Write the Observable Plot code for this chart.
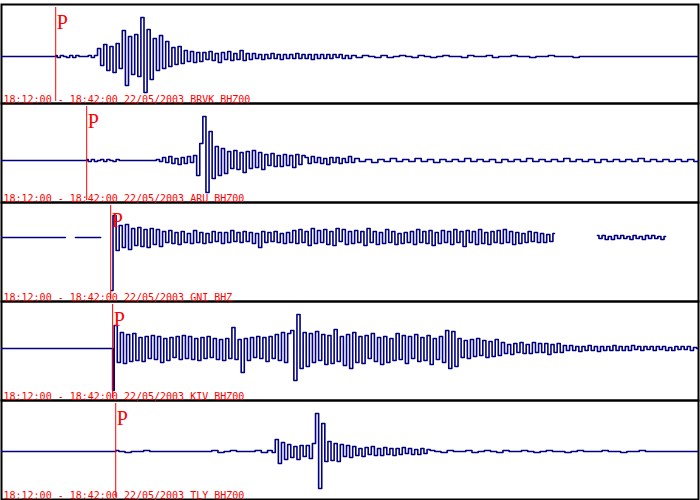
<!DOCTYPE html>
<html>
<head>
<meta charset="utf-8">
<script src="https://cdn.jsdelivr.net/npm/d3@7"></script>
<script src="https://cdn.jsdelivr.net/npm/@observablehq/plot@0.6"></script>
<style>
html,body{margin:0;padding:0;background:#fff;}
</style>
</head>
<body>
<div id="chart"></div>
<script>
// ---- record info ----
const startTime = "18:12:00";
const endTime = "18:42:00";
const recordDate = "22/05/2003";
const durationSec = 1800; // 30 minutes

const stations = ["BRVK", "ARU", "GNI", "KIV", "TLY"];
const channels = ["BHZ00", "BHZ00", "BHZ", "BHZ00", "BHZ00"];
// P arrival, seconds after 18:12:00
const pArrival = [140, 220, 282, 287, 295];
// trace baseline offset inside its panel (amplitude units)
const baselineOffset = [-2.5, -7.5, 14.5, 2.5, -1.5];

// ---- waveforms (amplitude samples) ----
const brvkWave = [1,-1,1,0,-1,1,-1,1, 0,0,0, 1,-1,1,
  8,-9,12,-14,10,-16,13,-12, 26,-29,20, -18,22,-20, 39,-36, 27,-23,18,
  -14,21,-12,15, -10,9,-8,10,-7, 6,-5,5,-6,4,-5,
  4,-3,5,-4,3,-6,4,-3,5,-4,3,-3,6,-4,3,-3,
  3,-2,2,-3,2,-2,3,-2,2,-3,2,-2,2,-2,3,-2,2,-2,2,-3,2,-2,2,-2,2,-2,
  2,-1,2,-2,1,-2];
const brvkCoda = [1,-1,1,0,-1,1,-1,0,1,0,-1,1,0,-1,0,1,0,0,-1,1,0,0,1,-1,0,0,1,0,0,-1,0,0,1,0,0,0,-1,0,0,0];

const aruWave = [1,-1,1,-1,0,1,-1,1,0,-1,1, 0,0,0,0,0,0,0,0,0,0,0,0, 1,-1,
  3,-2,4,-3,2,-4,3,-3,4,-2,5,
  -15,17,44,-32,29,-18,14,-15,12,-13,
  9,-8,10,-9,8,-12,9,-8,10,-7,8,-9,
  6,-5,7,-6,5,-6,6,-5,5,-7,6,-4,5,
  3,-3,4,-2,3,-3,2,-4,3,-2,3,-3,2,-2,4,-2];
const aruCoda = [2,-1,1,-2,1,-1,2,-1,1,-1,2,-1,1,-2,1,-1,1,-1,2,-1,1,-1,1,-2,1,-1,1,-1,2,-1,1,-1,1,-1,2,-1,1,-1,1,-2,1,-1,1,-1,1,-1,2,-1,1,-1,1,-1,1,-1,1,-1];

const gniWave = [-53,22,-13,12,-10,13,-12,
  9,-8,10,-9,8,-10,9,-7,8,-9,
  6,-5,7,-6,5,-7,6,-5,4,-6,7,-5,5,-6,4,-5,6,-4,5,-6,5,-5,7,-4,5,-5,6,-4,5,-6,4,-10,6,-5,5,-4,6,-5,4,-6,5,-5,
  7,-6,8,-5,6,-8,9,-6,7,-5,8,-7,6,-8,
  9,-4,8,-7,6,
  -6,7,-5,6,-8,9,-5,6,-7,5,-6,8,-5,6,-7,4,-6,5,-5,6,-7,8,-5,6,-6,7,-8,5,-6,7,
  -5,6,-7,8,-5,6,-9,7,-5,6,-7,8,-6,5,-7,6,-5,7,-6,8,-5,6,-7,5,-6,4,-5,6,-4,5,
  -5,4,-5,3,-4,4];
const gniLate = [2,-1,2,-2,1,-2,2,-1,2,-1,1,-2,2,-1,1,-2,2,-1,2,-1,1,-2,1];

const kivWave = [-42,23,-14,16,-15,14,-13,15,
  -12,11,-13,12,-10,13,-11,12,-14,10,-12,11,-9,12,-11,13,-10,12,-11,10,-12,
  11,-10,12,-9,10,-11,9,-12,10,-10,21,-11,9,-24,10,-12,11,-9,12,-10,11,-13,12,-10,14,-12,16,-14,15,
  18,-32,34,-20,16,
  -18,15,-14,17,-12,14,-16,13,-15,19,-13,12,-17,14,-20,
  16,-14,12,-15,13,-10,15,-13,11,-16,12,-14,10,-12,15,-11,13,-15,12,-10,14,-13,11,-12,13,-16,10,-11,12,-14,18,-20,17,
  -18,10,-9,8,-10,9,-8,10,-7,8,-9,7,-8,9,-7,
  6,-5,4,-6,5,-4,6,-5,4,-5,6,-4,5,-4,5,-6,4,-4,5,-4,
  3,-2,3,-2,2,-3,2,-2,3,-2,2,-3,2,-2,2,-2,3,-2,2,-2,2,-2,3,-1,2,-2,2,-1,2,-2,2,-1,2,-2,1,-2,2,-1,2,-1,2,-2,1];

const tlyPre = [1,0,-1,0,0,1,0,0,0,0,0,0,0,0,0,0,1,-1,0,1,0,0,0,1,-1];
const tlyWave = [1,-1, 12,-12,9,-8, 7,-6,5,-8,6,-5, 6,-7,8, 38,-37,28,-10, 10,-9,8,-10, 7,-5,6,-6,
  5,-4,3,-5,4,-3,5,-4,3,-4,4,-3,3,-4,3,-3,4,-2,3,-3,2,-3,3,-2,2];
const tlyCoda = [1,0,-1,1,0,0,1,-1,0,1,0,-1,1,0,0,1,0,-1,0,1,0,0,-1,0,1,0,0,0,1,0,0,-1,0,0,1,0];

// pieces: flat baseline (seconds), gap (seconds), or samples with spacing dt (seconds)
const tracePieces = {
  BRVK: [{flat: 140}, {dt: 8, v: brvkWave}, {dt: 16, v: brvkCoda}, {flat: "end"}],
  ARU:  [{flat: 220}, {dt: 8, v: aruWave}, {dt: 16, v: aruCoda}, {flat: "end"}],
  GNI:  [{flat: 165}, {gap: 26}, {flat: 65}, {gap: 28}, {dt: 8, v: gniWave}, {gapTo: 1539}, {dt: 8, v: gniLate}],
  KIV:  [{flat: 287}, {dt: 8, v: kivWave}, {flat: "end"}],
  TLY:  [{flat: 295}, {dt: 16, v: tlyPre}, {dt: 8, v: tlyWave}, {dt: 16, v: tlyCoda}, {flat: "end"}]
};

// ---- build tables ----
const points = [];
stations.forEach((s, k) => {
  let t = 0, g = 0;
  const off = baselineOffset[k];
  for (const p of tracePieces[s]) {
    if (p.gap != null) { t += p.gap; g++; continue; }
    if (p.gapTo != null) { t = p.gapTo; g++; continue; }
    if (p.flat != null) {
      const d = p.flat === "end" ? durationSec - t : p.flat;
      points.push({station: s, g: s + g, t, y: off}, {station: s, g: s + g, t: t + d, y: off});
      t += d; continue;
    }
    p.v.forEach((v, i) => points.push({station: s, g: s + g, t: t + i * p.dt, y: off + v}));
    t += p.v.length * p.dt;
  }
});
const picks = stations.map((s, k) => ({station: s, t: pArrival[k]}));
const labels = stations.map((s, k) => ({station: s, label: `${startTime} - ${endTime} ${recordDate} ${s} ${channels[k]}`}));

const chart = Plot.plot({
  width: 700,
  height: 500,
  marginTop: 4,
  marginBottom: 1,
  marginLeft: 1,
  marginRight: 2,
  style: {background: "white"},
  x: {domain: [0, durationSec], axis: null},
  y: {domain: [-49.5, 49.5], axis: null},
  fy: {domain: stations, axis: null, padding: 0},
  marks: [
    Plot.frame({stroke: "black", strokeWidth: 2}),
    Plot.line(points, {x: "t", y: "y", z: "g", fy: "station", stroke: "#000080", strokeWidth: 1.6, curve: "step", clip: true}),
    Plot.ruleX(picks, {x: "t", fy: "station", stroke: "red", strokeWidth: 1, insetTop: 3, insetBottom: 2}),
    Plot.text(picks, {x: "t", fy: "station", text: () => "P", frameAnchor: "top", textAnchor: "start", lineAnchor: "top", dx: 1, dy: 10, fill: "red", fontFamily: "Liberation Serif", fontSize: 20}),
    Plot.text(labels, {fy: "station", text: "label", frameAnchor: "bottom-left", textAnchor: "start", lineAnchor: "bottom", dx: 2, dy: -1, fill: "red", fontFamily: "DejaVu Sans Mono", fontSize: 10})
  ]
});
document.getElementById("chart").appendChild(chart);
</script>
</body>
</html>
